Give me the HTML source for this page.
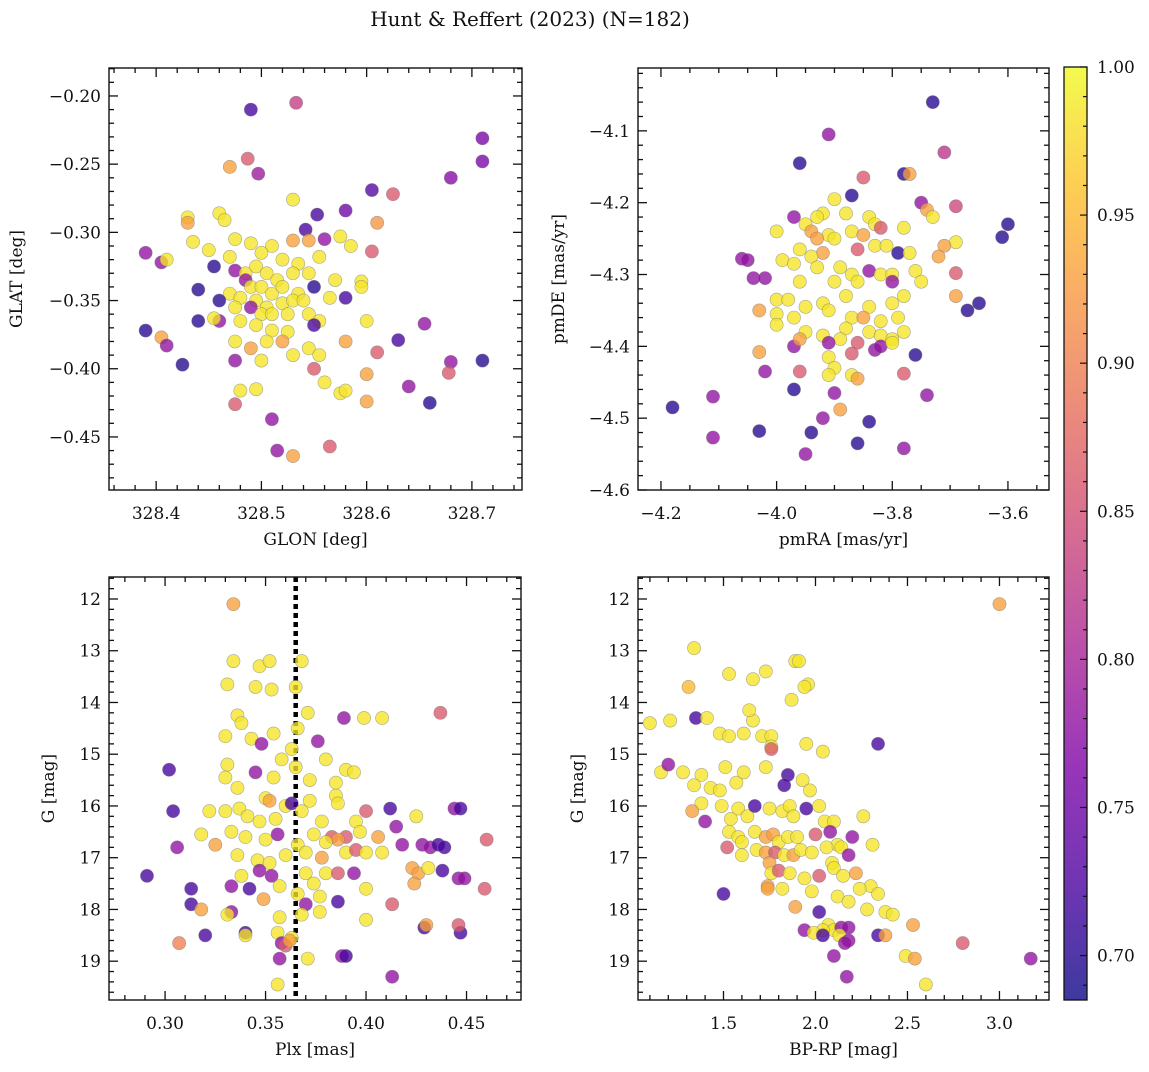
<!DOCTYPE html>
<html><head><meta charset="utf-8">
<style>
body{margin:0;background:#fff;}
svg text{font-family:"DejaVu Serif","Liberation Serif",serif;fill:#111;}
</style></head>
<body>
<svg id="fig" width="1149" height="1067" viewBox="0 0 1149 1067" xmlns="http://www.w3.org/2000/svg">
<defs>
<linearGradient id="plasma" x1="0" y1="1" x2="0" y2="0">
<stop offset="0" stop-color="#0d0887"/><stop offset="0.125" stop-color="#4c02a1"/>
<stop offset="0.25" stop-color="#7e03a8"/><stop offset="0.375" stop-color="#a92395"/>
<stop offset="0.5" stop-color="#cc4778"/><stop offset="0.625" stop-color="#e66c5c"/>
<stop offset="0.75" stop-color="#f89540"/><stop offset="0.875" stop-color="#fdc328"/>
<stop offset="1" stop-color="#f0f921"/>
</linearGradient>
</defs>
<text x="530" y="26" font-size="20" text-anchor="middle">Hunt &amp; Reffert (2023) (N=182)</text>
<g id="root"></g>
</svg>
<script>
// Panel 1: GLON vs GLAT
const glon = [328.49,328.533,328.71,328.71,328.487,328.47,328.497,328.68,328.605,328.625,328.53,328.43,328.43,328.46,328.465,328.553,328.58,328.61,328.542,328.435,328.475,328.49,328.51,328.53,328.545,328.56,328.575,328.585,328.605,328.39,328.45,328.47,328.5,328.52,328.535,328.555,328.405,328.41,328.455,328.475,328.485,328.495,328.505,328.515,328.53,328.545,328.485,328.49,328.5,328.51,328.52,328.535,328.55,328.57,328.595,328.595,328.44,328.47,328.48,328.495,328.505,328.52,328.53,328.54,328.565,328.58,328.46,328.475,328.49,328.5,328.51,328.525,328.545,328.555,328.44,328.46,328.455,328.48,328.495,328.51,328.525,328.55,328.6,328.655,328.39,328.405,328.41,328.425,328.475,328.49,328.505,328.52,328.53,328.545,328.555,328.58,328.61,328.63,328.475,328.5,328.55,328.56,328.575,328.58,328.6,328.6,328.64,328.68,328.678,328.71,328.66,328.48,328.495,328.475,328.51,328.515,328.53,328.565];
const glat = [-0.21,-0.205,-0.231,-0.248,-0.246,-0.252,-0.257,-0.26,-0.269,-0.272,-0.276,-0.289,-0.293,-0.286,-0.291,-0.287,-0.284,-0.293,-0.298,-0.307,-0.305,-0.308,-0.31,-0.306,-0.306,-0.305,-0.303,-0.31,-0.314,-0.315,-0.313,-0.318,-0.315,-0.32,-0.323,-0.318,-0.322,-0.32,-0.325,-0.328,-0.33,-0.325,-0.33,-0.335,-0.33,-0.33,-0.335,-0.34,-0.34,-0.345,-0.34,-0.345,-0.34,-0.335,-0.336,-0.34,-0.342,-0.345,-0.348,-0.35,-0.355,-0.352,-0.35,-0.35,-0.348,-0.348,-0.35,-0.355,-0.355,-0.36,-0.36,-0.36,-0.36,-0.365,-0.365,-0.365,-0.363,-0.365,-0.368,-0.372,-0.373,-0.368,-0.365,-0.367,-0.372,-0.377,-0.383,-0.397,-0.38,-0.385,-0.38,-0.38,-0.39,-0.385,-0.39,-0.38,-0.388,-0.379,-0.394,-0.394,-0.4,-0.41,-0.418,-0.416,-0.404,-0.424,-0.413,-0.395,-0.403,-0.394,-0.425,-0.416,-0.415,-0.426,-0.437,-0.46,-0.464,-0.457];
const prob1 = [0.72,0.83,0.76,0.76,0.86,0.93,0.79,0.77,0.73,0.86,0.985,0.985,0.93,0.985,0.985,0.72,0.75,0.92,0.72,0.985,0.985,0.985,0.985,0.93,0.93,0.78,0.985,0.985,0.86,0.78,0.985,0.985,0.985,0.985,0.985,0.985,0.78,0.985,0.70,0.78,0.985,0.985,0.985,0.985,0.985,0.985,0.78,0.985,0.985,0.985,0.985,0.985,0.70,0.985,0.985,0.985,0.70,0.985,0.985,0.985,0.985,0.985,0.985,0.985,0.985,0.72,0.70,0.985,0.78,0.985,0.985,0.985,0.985,0.985,0.70,0.78,0.985,0.985,0.985,0.985,0.985,0.72,0.985,0.78,0.70,0.93,0.78,0.70,0.985,0.93,0.985,0.93,0.985,0.985,0.985,0.93,0.86,0.72,0.78,0.985,0.86,0.985,0.985,0.985,0.93,0.93,0.78,0.78,0.86,0.70,0.70,0.985,0.985,0.86,0.78,0.78,0.93,0.86];

// Panel 2: pmRA vs pmDE
const pmra = [-3.73,-3.91,-3.71,-3.96,-3.78,-3.77,-3.85,-3.87,-3.75,-3.69,-3.74,-3.9,-3.92,-3.93,-3.88,-3.97,-3.84,-3.83,-3.82,-3.95,-3.94,-4.0,-3.91,-3.87,-3.78,-3.73,-3.6,-3.61,-3.69,-3.71,-3.93,-3.9,-3.85,-3.83,-3.96,-3.92,-3.94,-3.86,-3.81,-3.79,-3.77,-3.72,-4.06,-4.05,-3.99,-3.97,-3.93,-3.89,-3.87,-3.84,-3.82,-3.8,-3.76,-3.69,-4.04,-4.02,-3.96,-3.9,-3.86,-3.8,-3.75,-3.69,-3.65,-4.0,-3.98,-3.95,-3.92,-3.88,-3.84,-3.8,-3.78,-4.03,-4.0,-3.97,-3.91,-3.87,-3.85,-3.82,-3.79,-3.67,-4.0,-3.95,-3.92,-3.88,-3.84,-3.82,-3.8,-3.78,-3.89,-3.86,-3.83,-3.91,-3.97,-3.96,-4.03,-3.91,-3.87,-3.76,-3.82,-3.8,-3.9,-3.87,-3.86,-3.91,-3.96,-3.78,-4.02,-3.97,-3.9,-3.74,-3.89,-4.18,-4.11,-4.11,-4.03,-3.92,-3.94,-3.84,-3.86,-3.95,-3.78];
const pmde = [-4.06,-4.105,-4.13,-4.145,-4.16,-4.16,-4.165,-4.19,-4.2,-4.205,-4.21,-4.195,-4.215,-4.22,-4.215,-4.22,-4.22,-4.23,-4.235,-4.23,-4.24,-4.24,-4.245,-4.24,-4.235,-4.22,-4.23,-4.248,-4.255,-4.26,-4.25,-4.25,-4.245,-4.26,-4.265,-4.27,-4.275,-4.265,-4.26,-4.27,-4.27,-4.275,-4.278,-4.28,-4.28,-4.285,-4.29,-4.29,-4.3,-4.295,-4.3,-4.3,-4.295,-4.298,-4.305,-4.305,-4.31,-4.31,-4.31,-4.31,-4.31,-4.33,-4.34,-4.335,-4.335,-4.345,-4.34,-4.33,-4.345,-4.34,-4.33,-4.35,-4.355,-4.36,-4.35,-4.36,-4.36,-4.365,-4.36,-4.35,-4.37,-4.38,-4.385,-4.375,-4.38,-4.385,-4.39,-4.38,-4.39,-4.395,-4.405,-4.395,-4.4,-4.39,-4.408,-4.415,-4.41,-4.412,-4.4,-4.395,-4.43,-4.44,-4.445,-4.44,-4.435,-4.438,-4.435,-4.46,-4.465,-4.468,-4.488,-4.485,-4.47,-4.527,-4.518,-4.5,-4.52,-4.505,-4.535,-4.55,-4.542];
const prob2 = [0.70,0.78,0.82,0.70,0.70,0.93,0.86,0.70,0.78,0.84,0.93,0.985,0.985,0.985,0.985,0.78,0.985,0.985,0.86,0.985,0.93,0.985,0.985,0.985,0.985,0.985,0.70,0.70,0.985,0.93,0.93,0.985,0.93,0.985,0.985,0.93,0.985,0.86,0.985,0.70,0.985,0.93,0.78,0.78,0.985,0.985,0.985,0.985,0.985,0.78,0.985,0.985,0.985,0.86,0.78,0.78,0.985,0.985,0.985,0.78,0.985,0.93,0.70,0.985,0.985,0.985,0.985,0.985,0.985,0.985,0.985,0.93,0.985,0.985,0.985,0.985,0.93,0.985,0.985,0.70,0.985,0.985,0.985,0.985,0.985,0.985,0.985,0.985,0.985,0.86,0.78,0.78,0.78,0.93,0.93,0.985,0.86,0.70,0.78,0.985,0.985,0.985,0.93,0.985,0.86,0.86,0.78,0.70,0.78,0.78,0.93,0.70,0.78,0.78,0.70,0.78,0.70,0.70,0.70,0.78,0.78];

// Panel 3: Plx vs G
const plx = [0.334,0.347,0.352,0.368,0.334,0.331,0.345,0.353,0.365,0.336,0.338,0.371,0.389,0.399,0.408,0.437,0.33,0.343,0.354,0.366,0.363,0.348,0.376,0.302,0.331,0.358,0.38,0.39,0.394,0.33,0.345,0.354,0.365,0.372,0.385,0.304,0.336,0.35,0.352,0.36,0.363,0.372,0.385,0.386,0.322,0.33,0.337,0.347,0.341,0.355,0.368,0.378,0.395,0.4,0.412,0.415,0.425,0.444,0.447,0.306,0.318,0.325,0.333,0.34,0.35,0.356,0.366,0.374,0.383,0.39,0.397,0.406,0.386,0.38,0.336,0.346,0.352,0.36,0.37,0.378,0.39,0.395,0.4,0.408,0.418,0.428,0.432,0.436,0.439,0.46,0.291,0.338,0.347,0.353,0.37,0.374,0.38,0.386,0.394,0.423,0.426,0.431,0.438,0.446,0.449,0.459,0.313,0.333,0.342,0.357,0.366,0.377,0.4,0.424,0.313,0.318,0.333,0.331,0.349,0.386,0.37,0.377,0.413,0.357,0.368,0.4,0.32,0.34,0.34,0.356,0.363,0.358,0.36,0.362,0.429,0.43,0.447,0.446,0.307,0.357,0.371,0.388,0.39,0.413,0.356];
const gmag3 = [12.1,13.3,13.2,13.2,13.2,13.65,13.7,13.75,13.7,14.25,14.4,14.2,14.3,14.3,14.3,14.2,14.65,14.7,14.6,14.5,14.9,14.8,14.75,15.3,15.2,15.1,15.1,15.3,15.35,15.45,15.35,15.45,15.25,15.5,15.55,16.1,15.65,15.85,15.9,16.0,15.95,15.9,15.8,15.95,16.1,16.1,16.05,16.3,16.2,16.25,16.1,16.3,16.3,16.1,16.05,16.4,16.2,16.05,16.05,16.8,16.55,16.75,16.5,16.6,16.65,16.55,16.75,16.55,16.6,16.6,16.5,16.6,16.65,16.7,16.95,17.05,17.1,16.95,16.9,17.0,16.9,16.85,16.9,16.9,16.75,16.75,16.8,16.75,16.8,16.65,17.35,17.35,17.25,17.35,17.3,17.5,17.3,17.3,17.3,17.2,17.3,17.2,17.25,17.4,17.4,17.6,17.6,17.55,17.6,17.55,17.7,17.75,17.6,17.5,17.9,18.0,18.05,18.1,17.8,17.85,17.9,18.05,17.9,18.15,18.1,18.2,18.5,18.45,18.5,18.45,18.55,18.65,18.7,18.6,18.35,18.3,18.45,18.3,18.65,18.95,18.95,18.9,18.9,19.3,19.45];
const prob3 = [0.93,0.985,0.985,0.985,0.985,0.985,0.985,0.985,0.985,0.985,0.985,0.985,0.78,0.985,0.985,0.86,0.985,0.985,0.985,0.985,0.985,0.78,0.78,0.72,0.985,0.985,0.985,0.985,0.985,0.985,0.78,0.985,0.985,0.985,0.985,0.72,0.985,0.985,0.93,0.985,0.72,0.985,0.985,0.985,0.985,0.985,0.985,0.985,0.985,0.985,0.985,0.985,0.985,0.86,0.72,0.78,0.985,0.78,0.72,0.78,0.985,0.93,0.985,0.985,0.985,0.78,0.985,0.985,0.86,0.86,0.985,0.93,0.93,0.985,0.985,0.985,0.985,0.985,0.985,0.93,0.985,0.86,0.985,0.985,0.78,0.78,0.78,0.72,0.72,0.86,0.72,0.985,0.78,0.78,0.985,0.985,0.985,0.86,0.78,0.93,0.93,0.985,0.72,0.78,0.78,0.86,0.72,0.78,0.72,0.985,0.985,0.985,0.985,0.93,0.72,0.93,0.78,0.985,0.93,0.72,0.78,0.985,0.86,0.985,0.985,0.985,0.72,0.72,0.985,0.985,0.985,0.78,0.86,0.93,0.72,0.93,0.72,0.86,0.9,0.78,0.985,0.78,0.72,0.78,0.985];

// Panel 4: BP-RP vs G
const bprp = [3.0,1.34,1.31,1.53,1.89,1.91,1.73,1.96,1.66,1.94,1.1,1.21,1.35,1.41,1.66,1.87,1.64,1.48,1.53,1.61,1.71,1.76,1.76,1.76,1.95,2.04,2.34,1.16,1.2,1.28,1.38,1.34,1.51,1.57,1.61,1.73,1.85,1.83,1.93,1.97,1.43,1.48,1.38,1.33,1.4,1.49,1.54,1.58,1.63,1.67,1.75,1.82,1.86,1.88,1.95,2.02,2.05,2.1,2.26,1.53,1.58,1.6,1.67,1.73,1.77,1.8,1.85,1.9,2.0,2.08,2.12,2.2,2.31,1.52,1.6,1.68,1.73,1.78,1.83,1.88,1.92,1.98,2.06,2.09,2.14,2.18,1.75,1.76,1.8,1.86,1.94,2.02,2.1,2.15,2.22,2.3,2.24,2.34,1.5,1.74,1.74,1.82,1.89,1.98,2.12,2.18,2.28,2.38,2.42,2.53,2.02,2.07,2.1,2.14,2.18,2.04,1.94,1.99,2.04,2.13,2.34,2.38,2.18,2.16,2.1,2.49,2.54,2.8,2.17,2.6,3.17];
const gmag4 = [12.1,12.95,13.7,13.45,13.2,13.2,13.4,13.65,13.55,13.7,14.4,14.35,14.3,14.3,14.35,13.95,14.15,14.6,14.65,14.6,14.65,14.65,14.85,14.9,14.8,14.95,14.8,15.35,15.2,15.35,15.4,15.6,15.25,15.55,15.35,15.25,15.4,15.6,15.5,15.7,15.65,15.7,15.95,16.1,16.3,16.0,16.25,16.05,16.2,16.0,16.05,16.1,16.0,16.2,16.05,16.0,16.3,16.3,16.2,16.5,16.6,16.7,16.5,16.6,16.55,16.7,16.6,16.6,16.55,16.5,16.75,16.6,16.75,16.8,16.95,16.85,16.9,16.9,16.95,16.95,16.85,16.9,16.8,17.1,16.8,16.95,17.1,17.3,17.25,17.3,17.4,17.35,17.2,17.35,17.3,17.55,17.6,17.7,17.7,17.55,17.6,17.6,17.95,17.65,17.75,17.85,18.0,18.05,18.1,18.3,18.05,18.3,18.4,18.35,18.35,18.4,18.4,18.45,18.5,18.5,18.5,18.5,18.6,18.65,18.9,18.9,18.95,18.65,19.3,19.45,18.95];
const prob4 = [0.93,0.985,0.95,0.985,0.985,0.985,0.985,0.985,0.985,0.985,0.985,0.985,0.72,0.985,0.985,0.985,0.985,0.985,0.985,0.985,0.985,0.985,0.985,0.86,0.985,0.985,0.72,0.985,0.78,0.985,0.985,0.985,0.985,0.985,0.985,0.985,0.72,0.72,0.985,0.985,0.985,0.985,0.985,0.93,0.78,0.985,0.985,0.985,0.985,0.72,0.985,0.985,0.985,0.985,0.72,0.985,0.985,0.985,0.985,0.985,0.985,0.985,0.985,0.93,0.93,0.985,0.985,0.985,0.86,0.78,0.985,0.78,0.985,0.86,0.985,0.985,0.93,0.86,0.985,0.93,0.985,0.985,0.985,0.985,0.985,0.78,0.93,0.985,0.86,0.985,0.985,0.86,0.985,0.985,0.93,0.985,0.985,0.985,0.72,0.93,0.93,0.985,0.93,0.985,0.985,0.985,0.985,0.985,0.985,0.93,0.72,0.985,0.985,0.78,0.78,0.985,0.78,0.985,0.72,0.985,0.72,0.93,0.78,0.78,0.78,0.985,0.93,0.86,0.78,0.985,0.78];

const cbTicks = [0.70,0.75,0.80,0.85,0.90,0.95,1.00];
const plxCut = 0.365;

const NS = 'http://www.w3.org/2000/svg';
const root = document.getElementById('root');
function mk(tag, attrs, parent){const e=document.createElementNS(NS,tag);for(const k in attrs)e.setAttribute(k,attrs[k]);(parent||root).appendChild(e);return e;}

const cStops=[[13,8,135],[76,2,161],[126,3,168],[169,35,149],[204,71,120],[230,108,92],[248,149,64],[253,195,40],[240,249,33]];
const cMin=0.685,cMax=1.0;
function cmap(v){let t=(v-cMin)/(cMax-cMin);t=Math.max(0,Math.min(1,t));const s=t*8;const i=Math.min(7,Math.floor(s));const f=s-i;const a=cStops[i],b=cStops[i+1];return 'rgb('+a.map((q,j)=>Math.round(q+(b[j]-q)*f)).join(',')+')';}

function fmt(v,d){const s=Math.abs(v).toFixed(d);return (v<-1e-9?'\u2212':'')+s;}

function panel(p){
  const g=mk('g',{});
  
  
  const sx=v=>p.L+(v-p.x0)/(p.x1-p.x0)*(p.R-p.L);
  const sy=v=>p.B-(v-p.y0)/(p.y1-p.y0)*(p.B-p.T);
  const eps=1e-9;
  const tick=(x1,y1,x2,y2)=>mk('line',{x1,y1,x2,y2,stroke:'#111','stroke-width':1.3},g);
  const startMx=Math.ceil(Math.min(p.x0,p.x1)/p.xmin-eps);
  for(let k=startMx;k*p.xmin<=Math.max(p.x0,p.x1)+eps;k++){const v=k*p.xmin;const X=sx(v);const maj=Math.abs(v/p.xmaj-Math.round(v/p.xmaj))<1e-6;const len=maj?9:5;tick(X,p.B,X,p.B-len);tick(X,p.T,X,p.T+len);
    if(maj){const t=mk('text',{x:X,y:p.B+29,'font-size':17,'text-anchor':'middle'},g);t.textContent=fmt(v,p.xd);}}
  const startMy=Math.ceil(Math.min(p.y0,p.y1)/p.ymin-eps);
  for(let k=startMy;k*p.ymin<=Math.max(p.y0,p.y1)+eps;k++){const v=k*p.ymin;const Y=sy(v);const maj=Math.abs(v/p.ymaj-Math.round(v/p.ymaj))<1e-6;const len=maj?9:5;tick(p.L,Y,p.L+len,Y);tick(p.R,Y,p.R-len,Y);
    if(maj){const t=mk('text',{x:p.L-8,y:Y+6,'font-size':17,'text-anchor':'end'},g);t.textContent=fmt(v,p.yd);}}
  if(p.vline!==undefined){const l=mk('line',{x1:sx(p.vline),x2:sx(p.vline),y1:p.T,y2:p.B,stroke:'#000','stroke-width':4.5,'stroke-dasharray':'5 4'},g);}
  for(let i=0;i<p.xs.length;i++){
    const c=mk('circle',{cx:sx(p.xs[i]),cy:sy(p.ys[i]),r:6.6,fill:cmap(p.cs[i]),'fill-opacity':0.78,stroke:'#777','stroke-opacity':0.6,'stroke-width':0.6},g);
    
    
  }
  const fr=mk('rect',{x:p.L,y:p.T,width:p.R-p.L,height:p.B-p.T,fill:'none',stroke:'#111','stroke-width':1.4},g);
  
  const xl=mk('text',{x:(p.L+p.R)/2,y:p.B+55,'font-size':17,'text-anchor':'middle'},g);xl.textContent=p.xlab;
  
  const yx=p.L-p.ylOff, yy=(p.T+p.B)/2;
  const yl=mk('text',{x:yx,y:yy,'font-size':17,'text-anchor':'middle',transform:`rotate(-90 ${yx} ${yy})`},g);yl.textContent=p.ylab;
  
}

panel({name:'panel-glon-glat',L:109,R:522,T:68,B:490,x0:328.3552,x1:328.7476,y0:-0.4889,y1:-0.1795,xmaj:0.1,xmin:0.02,ymaj:0.05,ymin:0.01,xd:1,yd:2,xs:glon,ys:glat,cs:prob1,xlab:'GLON [deg]',ylab:'GLAT [deg]',ylOff:87});
panel({name:'panel-pm',L:638,R:1049,T:68,B:490,x0:-4.2397,x1:-3.529,y0:-4.6,y1:-4.0125,xmaj:0.2,xmin:0.05,ymaj:0.1,ymin:0.02,xd:1,yd:1,xs:pmra,ys:pmde,cs:prob2,xlab:'pmRA [mas/yr]',ylab:'pmDE [mas/yr]',ylOff:74});
panel({name:'panel-plx-g',L:109,R:521,T:577,B:1000,x0:0.2721,x1:0.4771,y0:19.75,y1:11.575,xmaj:0.05,xmin:0.01,ymaj:1,ymin:0.2,xd:2,yd:0,xs:plx,ys:gmag3,cs:prob3,xlab:'Plx [mas]',ylab:'G [mag]',ylOff:55,vline:plxCut});
panel({name:'panel-cmd',L:638,R:1049,T:577,B:1000,x0:1.0353,x1:3.2692,y0:19.75,y1:11.575,xmaj:0.5,xmin:0.1,ymaj:1,ymin:0.2,xd:1,yd:0,xs:bprp,ys:gmag4,cs:prob4,xlab:'BP-RP [mag]',ylab:'G [mag]',ylOff:55});

// colorbar
const cb=mk('g',{});


const cbL=1064,cbR=1087,cbT=67,cbB=1000;
const cy=v=>cbB-(v-cMin)/(cMax-cMin)*(cbB-cbT);
mk('rect',{x:cbL,y:cbT,width:cbR-cbL,height:cbB-cbT,fill:'url(#plasma)','fill-opacity':0.8},cb);
mk('rect',{x:cbL,y:cbT,width:cbR-cbL,height:cbB-cbT,fill:'none',stroke:'#111','stroke-width':1.3},cb);
for(let k=69;k<=100;k++){const v=k/100;const Y=cy(v);const maj=k%5===0;mk('line',{x1:cbR,x2:cbR-(maj?7:4),y1:Y,y2:Y,stroke:'#111','stroke-width':1.2},cb);}
cbTicks.forEach(v=>{const t=mk('text',{x:cbR+10,y:cy(v)+6,'font-size':17},cb);t.textContent=v.toFixed(2);});
</script>
</body></html>
